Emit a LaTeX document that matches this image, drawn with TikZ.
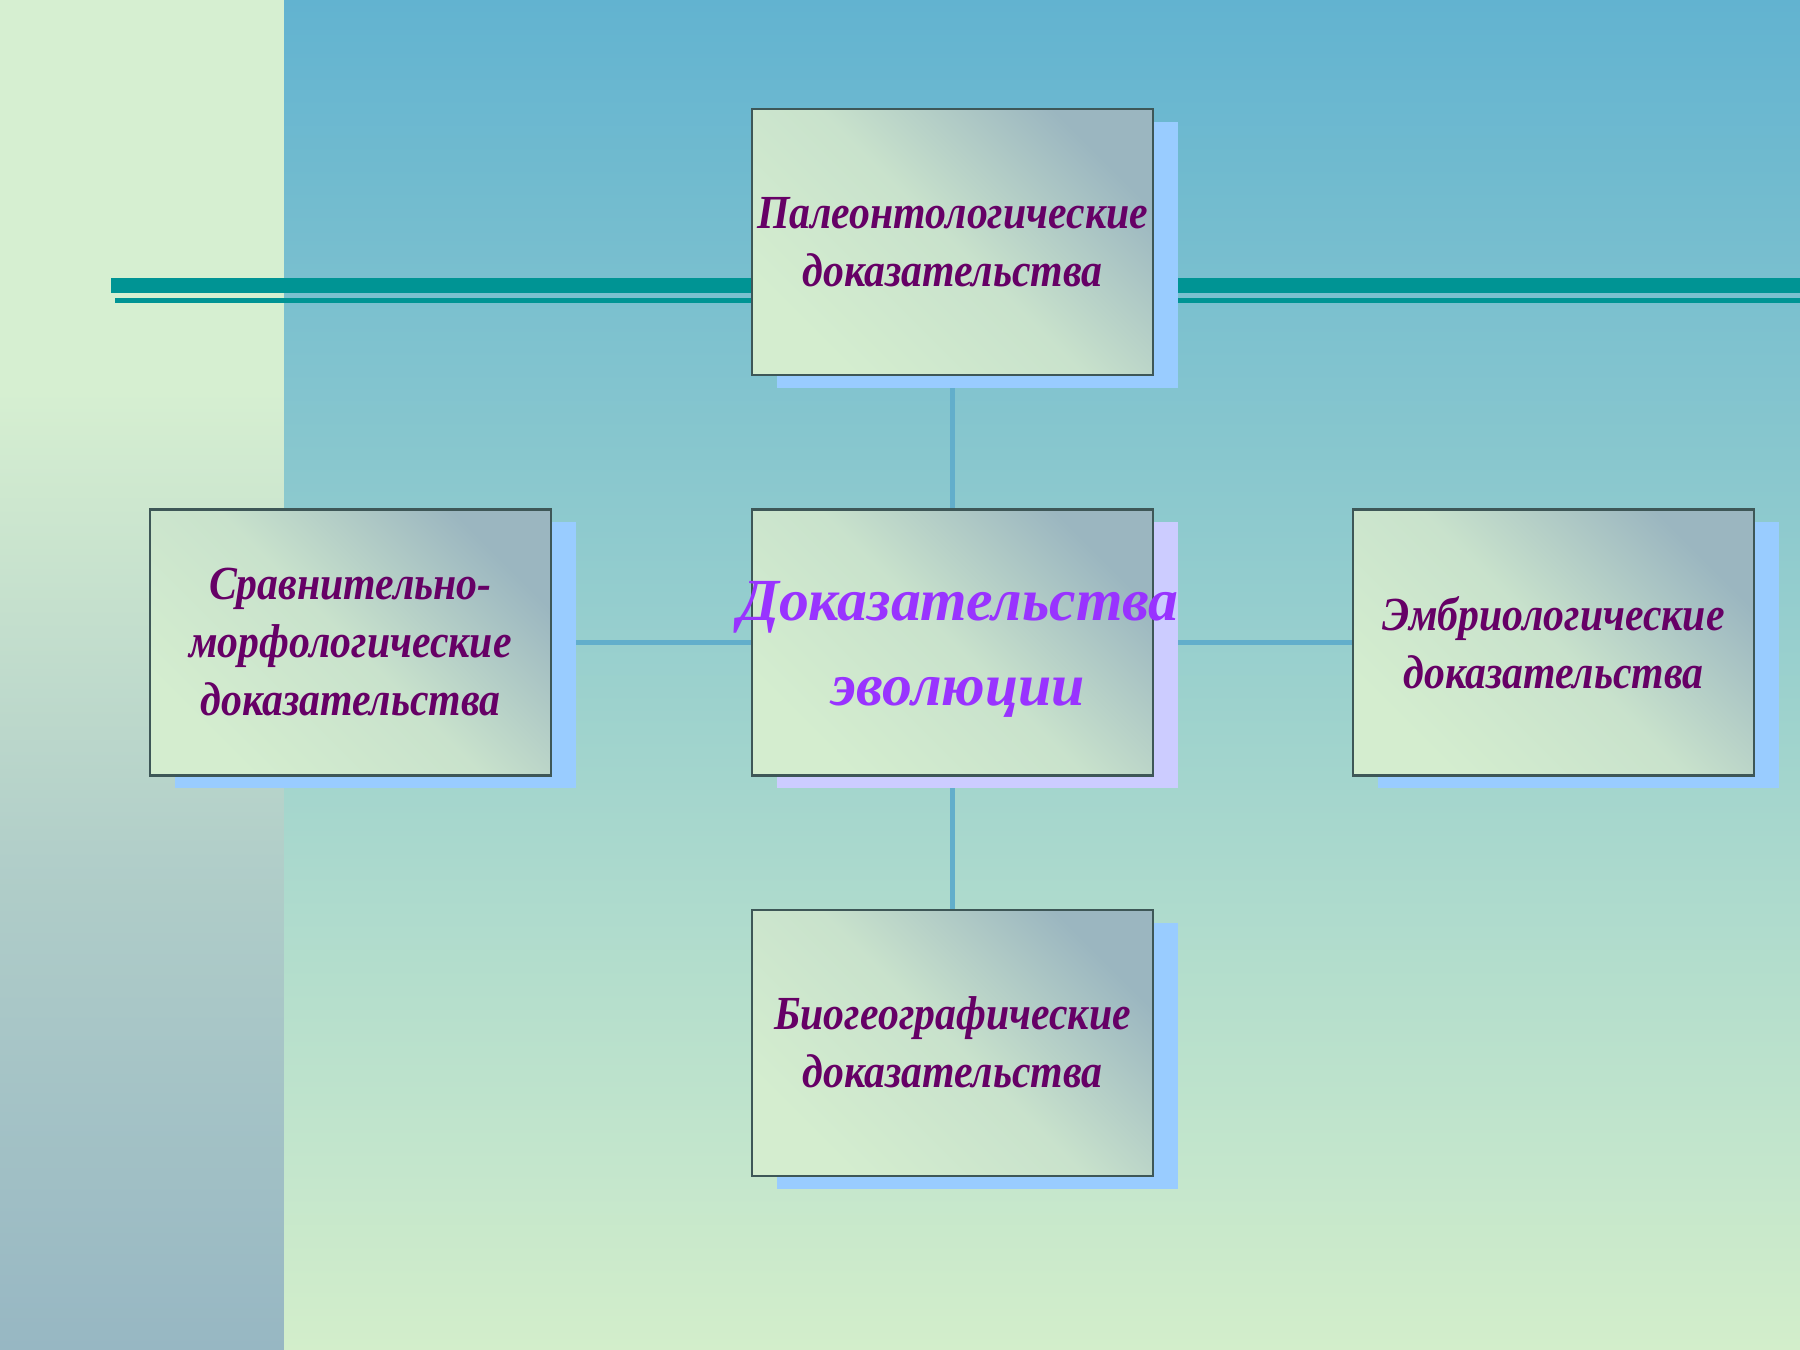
\documentclass[tikz,border=0pt]{standalone}
\usepackage{fontspec}
\setmainfont{Liberation Serif}
\newfontfamily\evofont[FakeStretch=0.88]{Liberation Serif}
\usepackage{xcolor}
\definecolor{SkyTop}{HTML}{62B3D0}
\definecolor{MintBottom}{HTML}{D3EECB}
\definecolor{PanelTop}{HTML}{D6EFD1}
\definecolor{PanelBottom}{HTML}{97B7C3}
\definecolor{StripeTeal}{HTML}{009494}
\definecolor{LinkBlue}{HTML}{62AECB}
\definecolor{BoxMint}{HTML}{D4EDCF}
\definecolor{BoxGrey}{HTML}{9BB6C0}
\definecolor{BoxEdge}{HTML}{3E5757}
\definecolor{ShadowBlue}{HTML}{99CCFF}
\definecolor{ShadowLilac}{HTML}{CCCCFF}
\definecolor{PlumText}{HTML}{660066}
\definecolor{VioletText}{HTML}{9933FF}
\usepackage{tikz}
\usetikzlibrary{positioning,shadows}
\pgfdeclarelayer{back}
\pgfdeclarelayer{links}
\pgfsetlayers{back,links,main}

\begin{document}
\begin{tikzpicture}[
  box/.style={draw=BoxEdge,line width=0.6pt,minimum width=4.01cm,minimum height=2.66cm,inner sep=0pt,
    top color=BoxGrey,bottom color=BoxMint,middle color=BoxMint!80!BoxGrey,shading angle=-45,
    drop shadow={opacity=1,fill=#1,shadow xshift=0.25cm,shadow yshift=-0.13cm},
    align=center,text=PlumText,font=\evofont\bfseries\itshape\fontsize{13.5}{16.5}\selectfont},
  box/.default=ShadowBlue,
  link/.style={LinkBlue,line width=1.6pt}
]
  \useasboundingbox (0,0) rectangle (18,13.5);
  \node[box=ShadowLilac,label={[text=VioletText,align=center,xshift=0.06cm,yshift=-0.07cm,font=\bfseries\itshape\fontsize{17}{24}\selectfont]center:Доказательства\\эволюции}] (evo) at (9.525,7.075) {};
  \node[box,above=1.32cm of evo] (paleo) {Палеонтологические\\доказательства};
  \node[box,left=1.99cm of evo] (morpho) {Сравнительно-\\морфологические\\доказательства};
  \node[box,right=1.98cm of evo] (embryo) {Эмбриологические\\доказательства};
  \node[box,below=1.32cm of evo] (biogeo) {Биогеографические\\доказательства};
  \begin{pgfonlayer}{links}
    \draw[link] (paleo) -- (evo);
    \draw[link] (evo) -- (biogeo);
    \draw[link] (morpho) -- (evo);
    \draw[link] (evo) -- (embryo);
  \end{pgfonlayer}
  \begin{pgfonlayer}{back}
    \fill[PanelTop] (0,9.6) rectangle (2.84,13.5);
    \shade[top color=PanelTop,bottom color=PanelBottom,middle color=PanelTop!40!PanelBottom] (0,0) rectangle (2.84,9.6);
    \shade[top color=SkyTop,bottom color=MintBottom] (2.84,0) rectangle (18,13.5);
    \fill[StripeTeal] (1.11,10.57) rectangle (18,10.72);
    \fill[StripeTeal] (1.15,10.47) rectangle (18,10.52);
  \end{pgfonlayer}
\end{tikzpicture}
\end{document}
